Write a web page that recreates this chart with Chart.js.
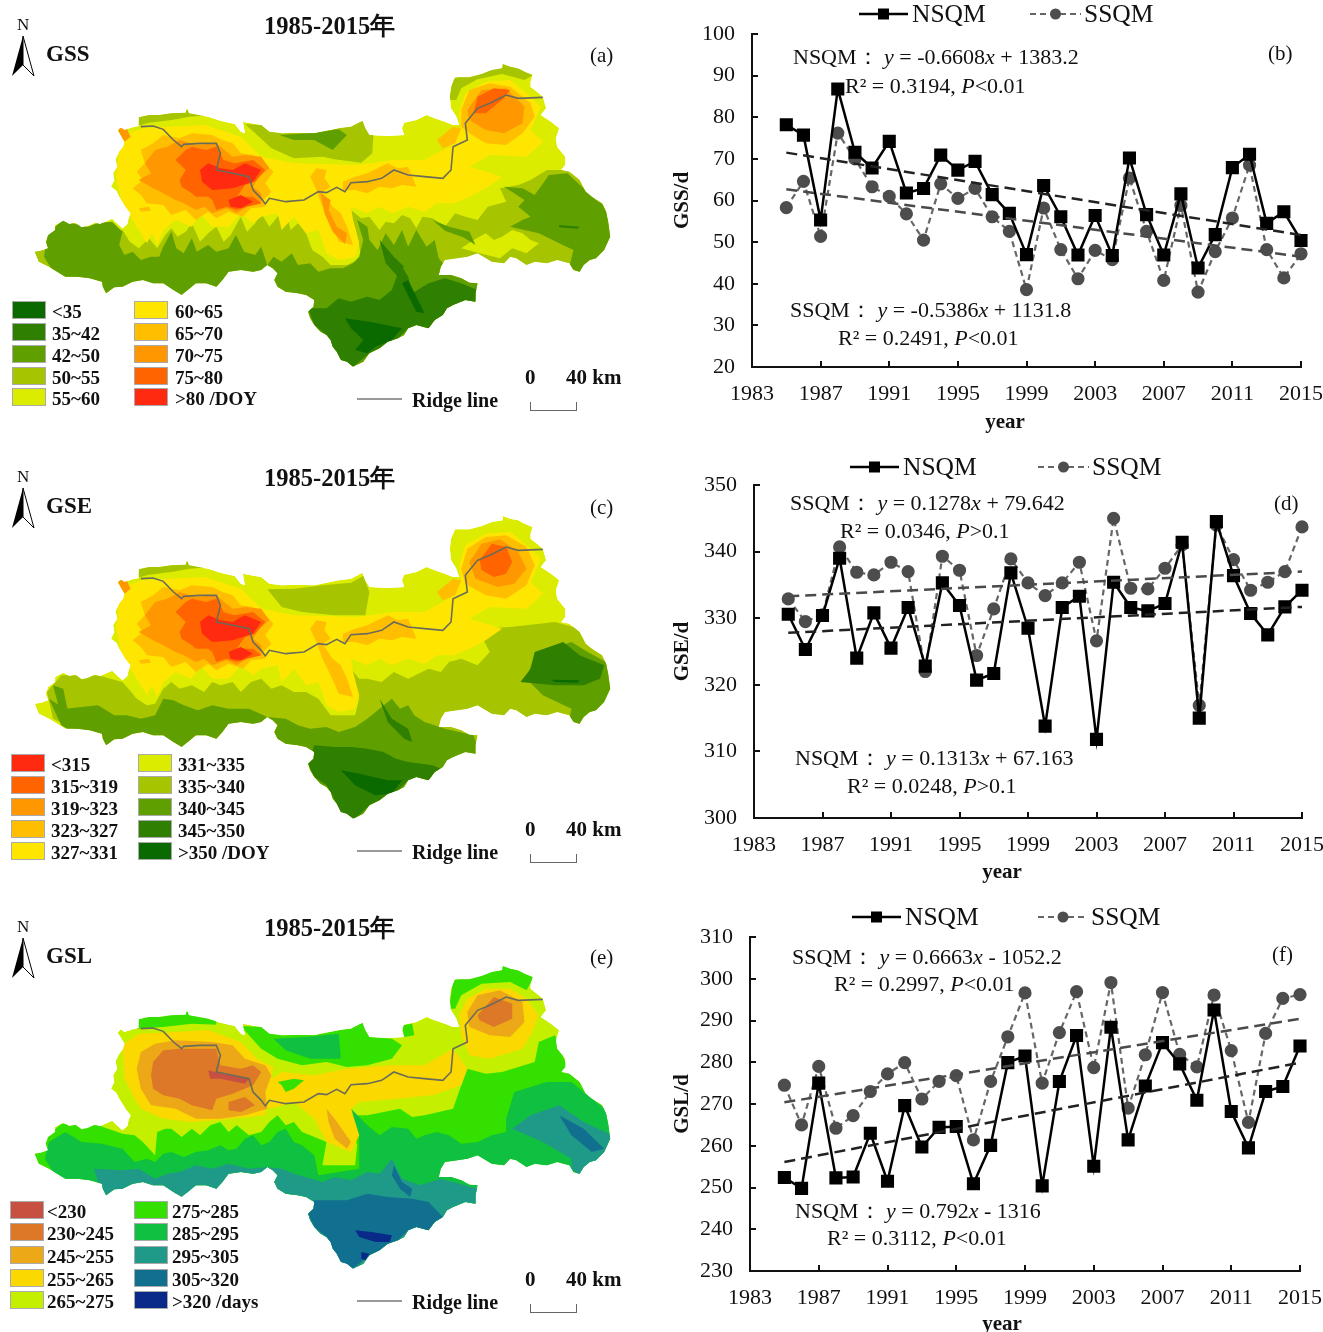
<!DOCTYPE html>
<html>
<head>
<meta charset="utf-8">
<title>GSS GSE GSL 1985-2015</title>
<script src="https://cdn.jsdelivr.net/npm/chart.js@4"></script>
<style>
html, body { margin: 0; padding: 0; background: #fff; }
#page { position: relative; width: 1323px; height: 1332px; overflow: hidden; font-family: "Liberation Serif", serif; color: #111; }
#page canvas { position: absolute; }
.txt { position: absolute; white-space: pre; transform: translateY(-50%); line-height: 1; }
.eq { font-size: 22px; }
.bold { font-weight: bold; }
.swatch { position: absolute; width: 34px; height: 18px; border: 1px solid #aaa; box-sizing: border-box; }
.ridge { position: absolute; height: 2px; width: 45px; background: #999; }
.bar { position: absolute; width: 47px; height: 9px; border: 1.5px solid #666; border-top: 0; box-sizing: border-box; }
svg { position: absolute; overflow: visible; }
</style>
</head>
<body>
<div id="page"></div>
<script>
// ---- line chart values ----
const years = [1985,1986,1987,1988,1989,1990,1991,1992,1993,1994,1995,1996,1997,1998,1999,2000,2001,2002,2003,2004,2005,2006,2007,2008,2009,2010,2011,2012,2013,2014,2015];
const trendYears = [1985, 2015];

const gssNsqm = [78.2,75.7,55.3,86.8,71.6,67.8,74.2,61.8,62.9,70.9,67.3,69.4,61.4,56.9,47,63.6,56.1,46.9,56.4,46.8,70.2,56.6,46.9,61.6,43.8,51.8,67.9,71.1,54.5,57.3,50.4];
const gssSsqm = [58.3,64.6,51.4,76.2,70,63.3,61,56.8,50.5,64,60.5,62.9,56.1,52.6,38.6,58.2,48.2,41.2,48,45.8,65.4,52.6,40.8,58.8,38,47.7,55.8,68.5,48.2,41.4,47.2];
const gssNsqmTrend = [71.5, 51.7];
const gssSsqmTrend = [62.7, 46.5];
const gssTicks = [20, 100];

const gseNsqm = [330.6,325.3,330.4,339,324,330.8,325.5,331.6,322.8,335.3,331.9,320.7,321.7,336.8,328.5,313.8,331.6,333.3,311.8,335.4,331.6,331.1,332.2,341.4,315,344.5,336.4,330.7,327.5,331.7,334.2];
const gseSsqm = [332.9,329.5,330.5,340.7,336.9,336.5,338.4,337,322,339.3,337.2,324.4,331.4,338.9,335.3,333.4,335.3,338.4,326.6,345,334.5,334.4,337.5,341,316.9,344,338.8,334.2,335.4,337,343.7];
const gseNsqmTrend = [327.8, 331.7];
const gseSsqmTrend = [333.3, 337];
const gseTicks = [300, 350];

const gslNsqm = [252.4,249.8,275,252.3,252.5,263,251.5,269.6,259.7,264.4,264.6,250.9,260.1,279.9,281.5,250.4,275.4,286.4,255.1,288.4,261.4,274.3,284.7,279.6,270.9,292.5,268.2,259.5,273,274.2,283.9];
const gslSsqm = [274.5,265,279,264.2,267.2,273,277.2,279.9,271.2,275.4,276.8,261.4,275.4,286.1,296.6,275,287.1,296.9,278.7,299.1,269,281.8,296.7,281.9,278.9,296.1,282.8,265.6,286.9,295.3,296.2];
const gslNsqmTrend = [256.1, 279.9];
const gslSsqmTrend = [270.4, 290.4];
const gslTicks = [230, 310];

// ---- map legend classes ----
const gssLabels = ["<35","35~42","42~50","50~55","55~60","60~65","65~70","70~75","75~80",">80 /DOY"];
const gseLabels = ["<315","315~319","319~323","323~327","327~331","331~335","335~340","340~345","345~350",">350 /DOY"];
const gslLabels = ["<230","230~245","245~255","255~265","265~275","275~285","285~295","295~305","305~320",">320 /days"];

const greens = ["#0a6a00","#2f7f00","#5f9f00","#a6c400","#dcec00"];
const warms = ["#ffe600","#ffbe00","#ff9800","#ff6400","#ff2a10"];
const gssColors = greens.concat(warms);
const gseColors = warms.slice().reverse().concat(greens.slice().reverse());
const gslColors = ["#c85040","#dc7828","#eda818","#fbd800","#c4f000","#33e000","#10c040","#209a88","#11708f","#0a2a8a"];

// ---- map geometry: x,y pairs in the map's own units (x 0..1568, y 0..1290) ----
const mapOutline = [85,755,100,752,118,745,112,725,118,705,135,690,135,675,155,662,170,672,185,668,200,682,215,678,232,668,245,672,275,656,285,668,300,685,312,672,315,655,320,640,308,622,300,605,292,590,285,572,272,560,280,540,277,520,287,500,283,478,292,455,302,440,305,425,295,405,288,392,296,382,305,390,325,382,340,378,340,352,365,345,390,345,420,340,455,338,458,325,463,340,510,350,540,362,575,372,590,395,600,400,595,365,625,372,640,375,660,395,690,400,730,398,770,400,800,392,830,385,860,380,888,362,895,385,905,405,950,408,990,405,985,385,990,368,1020,360,1045,345,1065,355,1090,365,1110,375,1125,375,1118,350,1105,325,1102,290,1105,260,1115,232,1150,232,1180,222,1205,210,1230,205,1232,192,1250,200,1270,205,1285,215,1305,225,1300,245,1300,260,1320,280,1330,290,1338,325,1325,345,1350,365,1370,385,1362,415,1365,440,1385,470,1385,495,1375,510,1395,515,1420,540,1435,575,1450,590,1475,610,1485,635,1490,665,1495,710,1480,750,1460,775,1445,780,1430,795,1420,815,1405,810,1395,790,1365,780,1340,790,1310,785,1290,795,1265,775,1250,770,1235,790,1205,785,1170,760,1145,770,1120,775,1090,780,1080,800,1075,825,1105,825,1130,835,1150,848,1170,850,1165,880,1165,905,1140,900,1110,915,1095,925,1085,945,1065,960,1050,985,1020,975,1000,985,990,1005,975,1015,950,1025,930,1045,905,1060,890,1085,865,1100,850,1085,835,1080,825,1055,815,1040,810,1020,800,1005,785,995,770,975,760,955,755,935,768,920,770,900,750,885,730,880,700,875,680,860,672,840,680,820,668,805,655,795,640,810,620,815,590,810,560,815,545,840,530,860,505,850,480,850,460,870,445,885,425,870,400,850,375,850,350,840,325,845,300,860,280,862,260,880,252,860,250,845,220,835,190,830,160,830,140,815,120,800,95,785,90,770];
const ridgeLine = [345,380,375,378,400,388,425,420,445,440,450,433,490,430,530,430,540,460,530,510,570,520,610,530,620,570,640,595,650,612,660,595,700,605,745,600,780,575,800,578,825,562,845,575,860,548,900,545,935,535,965,510,1000,525,1040,530,1085,535,1105,510,1110,440,1145,420,1140,370,1170,325,1200,310,1240,285,1270,295,1330,292];

const northStrip = [335,378,340,350,390,338,460,328,515,345,465,350,420,360,365,368];
const neStrip = [1100,300,1110,235,1180,218,1230,190,1310,222,1285,240,1230,222,1170,238,1130,265,1118,300];

// warm zones shared by the GSS and GSE maps
const warmBand = [295,410,350,385,420,380,500,375,590,410,640,470,720,490,880,495,960,480,1040,480,1100,440,1130,390,1125,340,1140,280,1190,245,1250,240,1290,280,1325,320,1300,390,1330,425,1290,470,1200,465,1150,500,1230,530,1190,565,1150,590,1110,610,1070,610,1040,635,1000,620,960,640,930,620,900,640,860,620,865,660,880,730,870,770,830,780,800,760,780,690,750,700,720,650,690,690,680,640,640,650,620,670,590,640,560,680,520,680,490,640,470,680,430,660,400,690,385,735,372,700,360,730,340,690,320,650,300,620,285,530];
const amberWest = [345,450,375,430,400,405,440,415,470,400,520,405,545,420,570,430,590,460,620,465,650,490,670,515,650,550,665,575,645,600,650,620,615,625,595,650,560,635,530,655,510,635,480,660,455,630,420,645,400,615,360,610,345,585,325,565,350,540,335,515,355,490];
const amberTip = [288,385,310,385,320,410,305,425,295,405];
const amberRidge = [840,545,870,530,900,520,925,505,950,490,975,505,1000,500,1010,530,1020,560,985,555,960,565,930,560,900,580,870,570,840,570];
const amberStem = [760,530,775,505,800,510,795,535,810,560,790,575,815,620,835,640,850,680,865,735,830,725,810,670,790,620,775,570];
const amberSpot = [1070,420,1110,380,1130,385,1115,430,1085,445];
const amberFlecks = [340,625,365,620,370,632,345,635];
const orangeWest = [380,450,410,440,440,420,480,435,530,430,555,455,570,470,600,465,640,470,660,505,635,530,620,560,640,580,640,610,605,620,580,640,555,625,520,640,500,620,480,630,450,610,430,600,400,580,375,565,340,540,370,520,355,490];
const orangeStem = [785,580,810,600,805,630,825,680,850,700,845,732,815,695,795,640];
const redOrangeWest = [430,480,455,450,470,440,505,450,530,440,548,480,575,490,620,480,650,510,625,545,600,555,580,590,620,590,640,610,605,620,580,630,555,620,530,630,520,600,510,590,480,590,470,580,445,560,440,540,455,510];
const redCore = [490,510,510,490,540,505,570,510,600,490,640,510,620,545,570,565,520,570,495,545];
const redSpot = [560,600,590,585,620,605,590,625,565,620];

// GSS map
const gssPocket = [600,372,640,375,690,400,770,398,830,385,890,362,915,405,912,460,885,488,820,478,790,470,720,475,665,445,630,405];
const gssPocketInner = [685,405,760,400,830,388,850,405,815,450,770,420,720,420];
const gssFlank = [80,745,118,735,300,690,318,725,340,745,365,715,385,745,405,705,420,685,435,710,455,695,470,670,490,725,510,700,530,680,548,725,565,705,590,650,605,695,625,670,640,640,660,680,680,650,700,630,712,690,730,670,750,700,765,750,790,770,810,795,850,795,885,775,878,720,862,650,855,625,885,655,905,650,930,690,945,665,965,670,985,645,1005,655,1020,685,1035,650,1060,655,1090,680,1115,640,1140,650,1170,660,1195,620,1240,605,1225,565,1270,555,1300,540,1340,510,1400,510,1440,560,1510,620,1520,800,1430,840,1350,800,1250,800,1170,780,1100,800,1190,840,1190,930,900,1120,700,900,600,850,300,900,80,820];
const gssEastPatch = [1130,745,1160,720,1190,700,1210,720,1230,710,1255,690,1280,700,1300,720,1320,730,1290,760,1255,745,1225,775,1175,760];
const gssWest42 = [108,770,115,710,135,680,155,660,185,672,215,680,240,668,275,665,300,695,292,735,305,765,325,755,345,780,370,770,390,770,400,740,420,695,432,745,450,760,470,715,482,755,510,735,530,755,560,745,578,705,598,755,625,765,640,740,655,795,620,830,560,830,530,880,445,900,400,870,300,880,255,900,190,850,130,815];
const gssSouth42 = [655,795,670,770,690,785,715,760,730,795,760,790,780,815,810,805,840,805,865,790,880,770,890,720,875,660,900,680,905,720,925,750,945,700,965,735,985,690,1000,740,1020,690,1045,740,1065,720,1075,775,1085,790,1130,830,1190,850,1190,930,1080,1000,900,1120,800,1070,740,970,750,900,670,880];
const gssEast42 = [1250,680,1280,660,1300,650,1270,620,1285,600,1235,560,1280,565,1310,585,1345,525,1390,520,1460,600,1510,640,1510,750,1430,830,1395,800,1405,750,1370,730,1320,700];
const gssStream42 = [1060,660,1100,680,1150,695,1165,735,1135,712,1090,692];
const gssSouth35 = [755,925,800,925,830,895,860,905,900,890,930,900,960,870,975,820,985,800,1000,830,1010,880,1050,850,1090,835,1130,850,1170,870,1165,905,1110,915,1085,945,1050,985,1000,985,975,1015,930,1045,905,1060,865,1100,835,1080,815,1040,800,1005,770,975];
const gssRiver35 = [930,720,965,770,990,800,975,830,945,790];
const gssEast35 = [1370,675,1420,680,1415,686,1370,682];
const gssCoreDark = [845,955,905,965,985,985,960,1020,920,1040,900,1060,870,1050,890,1020,860,985];
const gssRiverDark = [985,850,1000,840,1040,940,1020,935];
const gssNeAmber = [1130,330,1150,270,1200,250,1250,260,1300,310,1310,350,1280,400,1240,435,1190,430,1150,400,1130,380];
const gssNeOrange = [1145,330,1180,270,1240,265,1285,320,1280,370,1235,400,1190,390,1150,360];
const gssNeRed = [1170,290,1210,265,1250,270,1230,300,1190,340,1160,340];

// GSE map
const gsePocket = [655,412,720,410,790,400,860,392,890,372,905,420,895,490,820,490,740,480,690,465];
const gseFlank = [115,720,150,670,240,670,300,690,318,715,335,740,360,760,380,755,400,710,420,690,440,710,470,700,500,720,520,690,540,700,570,690,590,720,615,690,640,680,665,710,690,700,720,720,750,720,780,740,810,790,870,790,880,740,860,650,880,680,900,680,935,690,965,660,1000,680,1050,650,1080,660,1100,630,1130,620,1170,640,1200,600,1170,530,1250,525,1360,510,1420,530,1500,640,1520,800,1400,850,1190,850,1190,930,900,1120,700,900,600,850,300,900,130,800];
const gseWest = [120,740,160,770,240,760,280,790,310,790,345,800,380,790,400,740,425,745,450,760,485,775,520,760,560,770,610,770,655,795,620,830,560,830,530,880,445,900,400,870,300,880,255,900,190,850,150,820];
const gseWestStreak = [130,700,155,710,165,770,145,770];
const gseSouth = [655,795,700,800,730,820,760,830,800,825,830,840,870,825,900,800,930,770,960,740,980,770,1000,760,1015,790,1040,810,1090,830,1160,850,1180,920,1080,1000,900,1120,800,1070,740,970,750,900,670,880];
const gseEast = [1290,680,1310,610,1350,590,1400,570,1440,600,1500,640,1510,740,1430,830,1395,800,1400,770,1330,730];
const gseSouthDeep = [755,935,770,880,820,885,860,885,900,890,940,900,970,920,1000,930,1060,940,1080,950,1050,985,1000,985,975,1015,930,1045,905,1060,870,1100,835,1080,810,1020,800,1000,770,975];
const gseEastDeep = [1275,690,1300,650,1310,600,1380,570,1420,610,1480,640,1470,680,1430,700,1360,700];
const gseRiver = [930,740,960,800,1000,830,1010,870,990,860,950,810];
const gseCore = [835,955,880,965,950,985,985,985,960,1025,920,1030,870,1000];
const gseStreak = [1350,683,1420,685,1415,692,1360,690];
const gseNeAmber = [1130,350,1145,290,1190,255,1240,250,1290,285,1310,340,1290,400,1240,440,1190,430,1140,395];
const gseNeOrange = [1150,330,1180,275,1225,262,1270,300,1290,350,1260,395,1220,405,1165,380];
const gseNeRed = [1175,325,1205,275,1240,285,1255,330,1240,365,1210,375,1180,355];

// GSL map
const gslPocket = [590,372,640,375,690,400,770,398,830,385,890,362,905,405,960,410,985,430,960,470,900,490,850,495,800,480,740,490,680,470,640,440,610,400];
const gslPocketInner = [670,410,750,405,830,395,835,470,760,470,700,445];
const gslSmallPatch = [985,370,1010,365,1015,400,990,405];
const gslNorth = [335,380,340,350,390,338,460,328,530,350,530,368,470,365,400,375];
const gslNe = [1100,320,1110,235,1180,218,1230,190,1310,222,1290,265,1250,240,1180,245,1130,280,1115,320];
const gslBelt275 = [85,750,118,700,150,665,240,670,300,695,330,700,350,720,380,760,385,690,405,680,420,680,445,705,470,680,490,700,515,670,540,660,560,690,580,670,610,700,640,690,660,660,680,640,700,670,720,660,740,690,760,700,800,720,790,790,870,790,875,730,860,650,840,610,870,640,900,640,940,630,980,620,1010,645,1040,640,1075,630,1110,620,1130,550,1145,500,1190,515,1230,510,1270,495,1310,480,1320,420,1360,400,1385,480,1420,540,1520,650,1520,820,1190,840,1190,930,900,1120,700,900,600,850,300,900,80,820];
const gslBelt285 = [110,770,120,720,160,690,200,720,250,725,300,740,330,780,360,770,380,780,400,755,420,750,450,765,480,750,510,745,540,730,560,745,580,740,600,710,620,700,640,730,660,720,680,690,700,680,720,720,740,730,770,760,780,820,830,810,880,800,880,700,860,620,900,670,930,700,960,675,1000,680,1020,710,1040,700,1070,690,1100,700,1130,725,1170,720,1205,700,1240,690,1240,650,1260,570,1340,540,1400,540,1470,610,1520,650,1520,820,1190,840,1190,930,900,1120,700,900,600,850,300,900,150,850];
const gslSouth295 = [230,800,300,805,340,800,380,830,410,815,440,810,480,790,520,800,560,785,610,800,655,795,690,800,720,815,790,840,820,825,860,835,900,810,930,815,960,770,985,830,1030,850,1080,830,1170,860,1190,930,1080,1000,900,1120,800,1070,740,970,750,900,670,880,620,840,530,890,445,900,400,880,300,890,255,895];
const gslEast295 = [1255,680,1300,640,1370,610,1430,660,1500,700,1490,760,1430,830,1400,800,1400,770,1330,720];
const gslSouth305 = [755,935,770,895,850,895,900,875,950,885,1010,890,1050,900,1085,945,1050,985,1000,985,975,1015,930,1045,905,1060,865,1100,835,1080,815,1040,800,1005,770,975];
const gslRiver305 = [965,790,985,840,1010,860,1005,885,980,860,960,820];
const gslEast305 = [1370,640,1430,680,1480,740,1450,750,1400,700];
const gslDeep = [870,985,910,990,960,1000,955,1020,920,1020,880,1005];
const gslDeepSmall = [885,1050,905,1055,895,1075,885,1070];
const gslBand265West = [300,430,340,395,430,390,510,385,590,420,630,470,670,495,660,560,650,640,570,650,470,660,400,650,345,620,330,590,305,530];
const gslBand265Mid = [640,620,650,540,690,510,770,520,850,500,960,490,1040,490,1110,440,1145,500,1130,550,1060,580,970,590,880,600,860,620,880,700,860,750,800,720,770,650,720,600,660,620];
const gslBand265Ne = [1125,340,1145,290,1190,260,1250,260,1290,290,1320,340,1300,400,1280,440,1200,470,1150,460,1130,400];
const gslWest255 = [345,450,380,425,430,415,520,420,570,430,600,470,650,490,665,520,650,570,655,620,600,640,540,650,480,650,430,620,370,610,345,560,335,500];
const gslNe255 = [1145,330,1170,280,1225,265,1280,300,1285,360,1250,405,1200,400,1150,375];
const gslStem255 = [800,620,820,650,860,720,850,740,820,710,805,660];
const gslWest245 = [375,480,400,445,440,440,470,440,530,440,540,490,590,500,620,490,640,510,620,550,570,575,530,590,520,625,470,610,440,590,400,580,375,560,370,520];
const gslSpot245 = [560,600,600,585,625,610,590,630,560,625];
const gslNe245 = [1170,340,1210,285,1255,305,1255,350,1210,375,1175,355];
const gslCore = [510,505,545,515,610,530,600,545,540,530,515,530];
const gslStream = [680,540,720,530,745,535,720,560,700,570,690,550];

// zones in paint order, each one [shape, index into the panel's colour list]
const gssZones = [
    [mapOutline,4],[gssPocket,3],[gssPocketInner,2],[northStrip,3],[neStrip,3],[gssFlank,3],[gssEastPatch,4],
    [gssWest42,2],[gssSouth42,2],[gssEast42,2],[gssStream42,2],[gssSouth35,1],[gssRiver35,1],[gssEast35,1],[gssCoreDark,0],[gssRiverDark,0],
    [warmBand,5],[amberWest,6],[amberRidge,6],[amberStem,6],[amberSpot,6],[amberFlecks,6],[gssNeAmber,6],[orangeWest,7],[orangeStem,7],[amberTip,7],[gssNeOrange,7],
    [redOrangeWest,8],[gssNeRed,8],[redCore,9],[redSpot,9]
];
const gseZones = [
    [mapOutline,5],[gsePocket,6],[northStrip,6],[gseFlank,6],[gseWest,7],[gseWestStreak,7],[gseSouth,7],[gseEast,7],
    [gseSouthDeep,8],[gseEastDeep,8],[gseRiver,8],[gseCore,9],[gseStreak,9],
    [warmBand,4],[amberWest,3],[amberRidge,3],[amberStem,3],[amberSpot,3],[amberFlecks,3],[gseNeAmber,3],[orangeWest,2],[amberTip,2],[gseNeOrange,2],
    [redOrangeWest,1],[gseNeRed,1],[redCore,0],[redSpot,0]
];
const gslZones = [
    [mapOutline,4],[gslNorth,5],[gslNe,5],[gslPocket,5],[gslPocketInner,6],[gslSmallPatch,5],[gslBelt275,5],[gslBelt285,6],
    [gslSouth295,7],[gslEast295,7],[gslSouth305,8],[gslRiver305,8],[gslEast305,8],[gslDeep,9],[gslDeepSmall,9],
    [gslBand265West,3],[gslBand265Mid,3],[gslBand265Ne,3],[gslStream,5],[gslWest255,2],[gslNe255,2],[gslStem255,2],[gslWest245,1],[gslSpot245,1],[gslNe245,1],[gslCore,0]
];

const page = document.getElementById("page");

function toPoints(flat) {
    let pts = [];
    for (let i = 0; i < flat.length; i += 2) pts.push({ x: flat[i], y: flat[i + 1] });
    return pts;
}

function addText(html, x, y, cls, size) {
    let el = document.createElement("div");
    el.className = "txt " + (cls || "");
    el.style.left = x + "px";
    el.style.top = y + "px";
    if (size) el.style.fontSize = size + "px";
    el.innerHTML = html;
    page.appendChild(el);
    return el;
}

function addCanvas(left, top, width, height) {
    let canvas = document.createElement("canvas");
    canvas.width = width;
    canvas.height = height;
    canvas.style.left = left + "px";
    canvas.style.top = top + "px";
    canvas.style.width = width + "px";
    canvas.style.height = height + "px";
    page.appendChild(canvas);
    return canvas;
}

// only paint the terrain zones inside the region outline
const clipToOutline = {
    id: "clipToOutline",
    beforeDatasetsDraw(chart) {
        let ctx = chart.ctx, xs = chart.scales.x, ys = chart.scales.y;
        ctx.save();
        ctx.beginPath();
        for (let i = 0; i < mapOutline.length; i += 2) {
            ctx.lineTo(xs.getPixelForValue(mapOutline[i]), ys.getPixelForValue(mapOutline[i + 1]));
        }
        ctx.closePath();
        ctx.clip();
    },
    afterDatasetsDraw(chart) {
        chart.ctx.restore();
    }
};

function drawMap(cfg) {
    let canvas = addCanvas(0, cfg.top, 640, 430);
    canvas.style.filter = "blur(0.6px)";
    let datasets = cfg.zones.map((zone, i) => ({
        data: toPoints(zone[0]),
        backgroundColor: cfg.colors[zone[1]],
        borderWidth: 0,
        pointRadius: 0,
        fill: "shape",
        tension: 0,
        order: 100 - i
    }));
    datasets.push({
        data: toPoints(ridgeLine),
        borderColor: "#6b6b5a",
        borderWidth: 1.6,
        pointRadius: 0,
        fill: false,
        order: 0
    });
    new Chart(canvas, {
        type: "line",
        data: { datasets: datasets },
        options: {
            responsive: false,
            animation: false,
            layout: { padding: 0 },
            plugins: { legend: { display: false }, tooltip: { enabled: false } },
            scales: {
                x: { type: "linear", display: false, min: 0, max: 1568 },
                y: { type: "linear", display: false, min: 0, max: 1290, reverse: true }
            }
        },
        plugins: [clipToOutline]
    });

    let t = cfg.top;
    addText("1985-2015年", 264, t + 26, "bold", 24.5);
    addText("N", 17, t + 24, "", 17);
    addText(cfg.name, cfg.nameX, t + 53, "bold", 23);
    addText(cfg.tag, 590, t + 55, "", 21);

    let svg = document.createElementNS("http://www.w3.org/2000/svg", "svg");
    svg.setAttribute("width", "26");
    svg.setAttribute("height", "42");
    svg.style.left = "11px";
    svg.style.top = (t + 35) + "px";
    svg.innerHTML = '<polygon points="12,1 1,41 12,30" fill="#000"/><polygon points="12,1 23,41 12,30" fill="#fff" stroke="#000" stroke-width="1"/>';
    page.appendChild(svg);

    cfg.labels.forEach((label, i) => {
        let col = i < 5 ? 0 : 1;
        let rowY = cfg.rows[i % 5];
        let sw = document.createElement("div");
        sw.className = "swatch";
        sw.style.left = cfg.swatchX[col] + "px";
        sw.style.top = (rowY - 9) + "px";
        sw.style.background = cfg.colors[i];
        page.appendChild(sw);
        addText(label.replace("<", "&lt;"), cfg.textX[col], rowY + 1, "bold", 19);
    });

    let ridge = document.createElement("div");
    ridge.className = "ridge";
    ridge.style.left = "357px";
    ridge.style.top = (t + 398) + "px";
    page.appendChild(ridge);
    addText("Ridge line", 412, t + 400, "bold", 20);
    addText("0", 525, t + 377, "bold", 21);
    addText("40 km", 566, t + 377, "bold", 21);
    let bar = document.createElement("div");
    bar.className = "bar";
    bar.style.left = "530px";
    bar.style.top = (t + 402) + "px";
    page.appendChild(bar);
}

function makeSeries(xs, ys) {
    return xs.map((x, i) => ({ x: x, y: ys[i] }));
}

function drawTrendChart(cfg) {
    let canvas = addCanvas(660, cfg.top, 663, cfg.height);
    let axisLeft = cfg.left - 660;
    let axisBottom = cfg.top + cfg.height - cfg.bottom;
    new Chart(canvas, {
        type: "line",
        data: {
            datasets: [
                { data: makeSeries(trendYears, cfg.nsqmTrend), borderColor: "#222", borderWidth: 2.5, borderDash: [11, 6], pointRadius: 0, order: 1, clip: false },
                { data: makeSeries(trendYears, cfg.ssqmTrend), borderColor: "#4a4a4a", borderWidth: 2.5, borderDash: [11, 6], pointRadius: 0, order: 2, clip: false },
                { label: "NSQM", data: makeSeries(years, cfg.nsqm), borderColor: "#000", backgroundColor: "#000", borderWidth: 2.5, pointStyle: "rect", pointRadius: 7.5, tension: 0, order: 3, clip: false },
                { label: "SSQM", data: makeSeries(years, cfg.ssqm), borderColor: "#666", backgroundColor: "#4d4d4d", pointBorderColor: "#4d4d4d", borderWidth: 2.2, borderDash: [6, 4], pointStyle: "circle", pointRadius: 5.5, tension: 0, order: 4, clip: false }
            ]
        },
        options: {
            responsive: false,
            animation: false,
            layout: { padding: { top: cfg.areaTop - cfg.top, right: 1323 - cfg.right, left: 0, bottom: 0 } },
            plugins: { legend: { display: false }, tooltip: { enabled: false } },
            scales: {
                x: {
                    type: "linear",
                    min: 1983,
                    max: 2015,
                    afterFit: (scale) => { scale.height = axisBottom; scale.paddingLeft = 0; scale.paddingRight = 0; },
                    border: { color: "#111", width: 2 },
                    grid: { drawOnChartArea: false, color: "#111", lineWidth: 2, tickLength: -6 },
                    ticks: {
                        stepSize: 4,
                        autoSkip: false,
                        maxRotation: 0,
                        padding: 20,
                        color: "#111",
                        font: { family: "Liberation Serif", size: 22 },
                        callback: (value) => String(value)
                    }
                },
                y: {
                    type: "linear",
                    min: cfg.yRange[0],
                    max: cfg.yRange[1],
                    afterFit: (scale) => { scale.width = axisLeft; scale.paddingTop = 0; scale.paddingBottom = 0; },
                    border: { color: "#111", width: 2 },
                    grid: { drawOnChartArea: false, color: "#111", lineWidth: 2, tickLength: -6 },
                    title: {
                        display: true,
                        text: cfg.yTitle,
                        color: "#111",
                        padding: { top: 10, bottom: 0 },
                        font: { family: "Liberation Serif", size: 21, weight: "bold" }
                    },
                    ticks: {
                        stepSize: 10,
                        padding: 23,
                        color: "#111",
                        font: { family: "Liberation Serif", size: 22 }
                    }
                }
            }
        }
    });

    addText("year", cfg.yearX, cfg.yearY, "bold", 21).style.transform = "translate(-50%, -50%)";
    addText(cfg.tag, cfg.tagX, cfg.tagY, "", 21);
    cfg.notes.forEach((n) => addText(n[0], n[1], n[2], "eq"));

    // legend: line sample with marker, then the series name
    let lg = cfg.legend;
    let svg = document.createElementNS("http://www.w3.org/2000/svg", "svg");
    svg.setAttribute("width", "300");
    svg.setAttribute("height", "20");
    svg.style.left = lg.x1 + "px";
    svg.style.top = (lg.y - 10) + "px";
    let mid = (lg.x2 - lg.x1) / 2, sx = lg.x3 - lg.x1, sw = lg.x4 - lg.x3;
    svg.innerHTML =
        '<line x1="0" y1="10" x2="' + (lg.x2 - lg.x1) + '" y2="10" stroke="#000" stroke-width="2.5"/>' +
        '<rect x="' + (mid - 5.5) + '" y="4.5" width="11" height="11" fill="#000"/>' +
        '<line x1="' + sx + '" y1="10" x2="' + (sx + sw) + '" y2="10" stroke="#666" stroke-width="2" stroke-dasharray="6 4"/>' +
        '<circle cx="' + (sx + sw / 2) + '" cy="10" r="5.5" fill="#4d4d4d"/>';
    page.appendChild(svg);
    addText("NSQM", lg.x2 + 4, lg.y, "", 25.5);
    addText("SSQM", lg.x4 + 3, lg.y, "", 25.5);
}

drawMap({ top: 0, zones: gssZones, colors: gssColors, labels: gssLabels, name: "GSS", nameX: 46, tag: "(a)",
    rows: [310, 332, 354, 376, 397], swatchX: [12, 134], textX: [52, 175] });
drawMap({ top: 452, zones: gseZones, colors: gseColors, labels: gseLabels, name: "GSE", nameX: 46, tag: "(c)",
    rows: [763, 785, 807, 829, 851], swatchX: [11, 138], textX: [51, 178] });
drawMap({ top: 902, zones: gslZones, colors: gslColors, labels: gslLabels, name: "GSL", nameX: 46, tag: "(e)",
    rows: [1210, 1232, 1255, 1278, 1300], swatchX: [10, 134], textX: [47, 172] });

drawTrendChart({ top: 0, height: 440, areaTop: 34, bottom: 367, left: 752, right: 1301, yRange: gssTicks, yTitle: "GSS/d",
    nsqm: gssNsqm, ssqm: gssSsqm, nsqmTrend: gssNsqmTrend, ssqmTrend: gssSsqmTrend,
    yearX: 1005, yearY: 421, tag: "(b)", tagX: 1268, tagY: 53,
    legend: { y: 14, x1: 859, x2: 908, x3: 1030, x4: 1081 },
    notes: [
        ["NSQM： <i>y</i> = -0.6608<i>x</i> + 1383.2", 793, 57],
        ["R² = 0.3194, <i>P</i>&lt;0.01", 845, 86],
        ["SSQM： <i>y</i> = -0.5386<i>x</i> + 1131.8", 790, 310],
        ["R² = 0.2491, <i>P</i>&lt;0.01", 838, 338]
    ] });
drawTrendChart({ top: 450, height: 440, areaTop: 485, bottom: 818, left: 754, right: 1302, yRange: gseTicks, yTitle: "GSE/d",
    nsqm: gseNsqm, ssqm: gseSsqm, nsqmTrend: gseNsqmTrend, ssqmTrend: gseSsqmTrend,
    yearX: 1002, yearY: 871, tag: "(d)", tagX: 1274, tagY: 503,
    legend: { y: 467, x1: 850, x2: 899, x3: 1038, x4: 1089 },
    notes: [
        ["SSQM： <i>y</i> = 0.1278<i>x</i> + 79.642", 790, 503],
        ["R² = 0.0346, <i>P</i>&gt;0.1", 840, 531],
        ["NSQM： <i>y</i> = 0.1313<i>x</i> + 67.163", 795, 758],
        ["R² = 0.0248, <i>P</i>&gt;0.1", 847, 786]
    ] });
drawTrendChart({ top: 895, height: 437, areaTop: 937, bottom: 1271, left: 750, right: 1300, yRange: gslTicks, yTitle: "GSL/d",
    nsqm: gslNsqm, ssqm: gslSsqm, nsqmTrend: gslNsqmTrend, ssqmTrend: gslSsqmTrend,
    yearX: 1002, yearY: 1323, tag: "(f)", tagX: 1272, tagY: 954,
    legend: { y: 917, x1: 852, x2: 901, x3: 1038, x4: 1088 },
    notes: [
        ["SSQM： <i>y</i> = 0.6663<i>x</i> - 1052.2", 792, 957],
        ["R² = 0.2997, <i>P</i>&lt;0.01", 834, 984],
        ["NSQM： <i>y</i> = 0.792<i>x</i> - 1316", 795, 1211],
        ["R² = 0.3112, <i>P</i>&lt;0.01", 827, 1238]
    ] });
</script>
</body>
</html>
